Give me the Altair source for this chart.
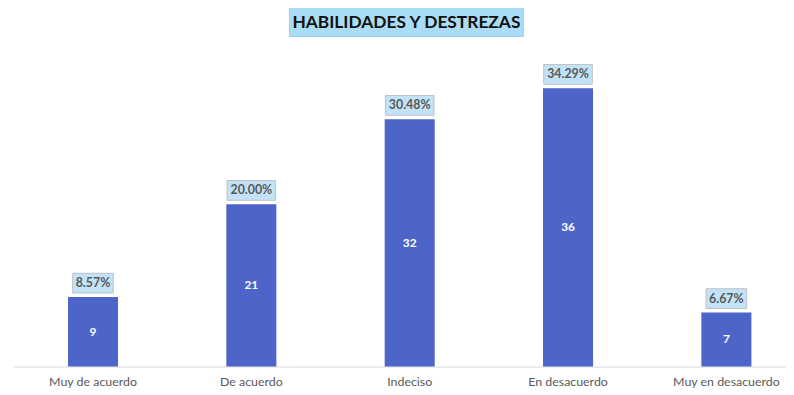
import altair as alt
import pandas as pd

categories = ["Muy de acuerdo", "De acuerdo", "Indeciso", "En desacuerdo", "Muy en desacuerdo"]
counts = [9, 21, 32, 36, 7]
percents = ["8.57%", "20.00%", "30.48%", "34.29%", "6.67%"]
title_text = "HABILIDADES Y DESTREZAS"

df = pd.DataFrame({"cat": categories, "n": counts, "pct": percents})

FONT = "Lato"

x_enc = alt.X(
    "cat:N",
    sort=categories,
    title=None,
    scale=alt.Scale(paddingInner=0.684, paddingOuter=0.283, align=0.614),
    axis=alt.Axis(
        labelAngle=0,
        labelColor="#595959",
        labelFont=FONT,
        labelFontSize=12.5,
        labelPadding=9,
        ticks=False,
        domainColor="#d9d9d9",
        domainWidth=1,
        grid=False,
    ),
)
y_scale = alt.Scale(domain=[0, 40])

base = alt.Chart(df)

bars = base.mark_bar(color="#4d64c9").encode(
    x=x_enc,
    y=alt.Y("n:Q", scale=y_scale, axis=None),
)

inner = base.transform_calculate(mid="datum.n / 2").mark_text(
    color="white", font=FONT, fontWeight="bold", fontSize=12, baseline="middle"
).encode(
    x=alt.X("cat:N", sort=categories),
    y=alt.Y("mid:Q", scale=y_scale),
    text="n:Q",
)

boxes = base.transform_calculate(
    b0="datum.n + 0.5", b1="datum.n + 3.06", bw="8 * length(datum.pct) + 1"
).mark_bar(fill="#c2e3f7", stroke="#bfbfbf", strokeWidth=1).encode(
    x=alt.X("cat:N", sort=categories),
    y=alt.Y("b0:Q", scale=y_scale),
    y2="b1:Q",
    size=alt.Size("bw:Q", scale=None, legend=None),
)

box_text = base.transform_calculate(mid="datum.n + 1.78").mark_text(
    color="#595959", font=FONT, fontWeight="bold", fontSize=12.5, baseline="middle"
).encode(
    x=alt.X("cat:N", sort=categories),
    y=alt.Y("mid:Q", scale=y_scale),
    text="pct:N",
)

tdf = pd.DataFrame({"t": [title_text]})
title_box = alt.Chart(tdf).mark_rect(fill="#aadcf6", stroke="#95d0f0", strokeWidth=1).encode(
    x=alt.value(279), x2=alt.value(515), y=alt.value(-52), y2=alt.value(-21)
)
title_txt = alt.Chart(tdf).mark_text(
    font=FONT, fontWeight="bold", fontSize=17.5, color="#111111", baseline="middle", align="center"
).encode(x=alt.value(397), y=alt.value(-35), text="t:N")

chart = alt.layer(bars, inner, boxes, box_text, title_box, title_txt).properties(
    width=780,
    height=312,
    autosize=alt.AutoSizeParams(type="none"),
    padding={"left": 5, "top": 48, "right": 0, "bottom": 26},
).configure(background="white", view=alt.ViewConfig(stroke=None, strokeWidth=0))

chart.save("out.html", embed_options={"renderer": "svg", "actions": False})
